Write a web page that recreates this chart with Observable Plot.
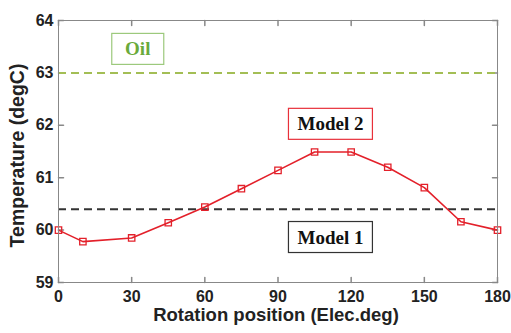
<!DOCTYPE html>
<html>
<head>
<meta charset="utf-8">
<script src="https://cdn.jsdelivr.net/npm/d3@7"></script>
<script src="https://cdn.jsdelivr.net/npm/@observablehq/plot@0.6"></script>
<style>
  html, body { margin: 0; padding: 0; background: #fff; }
</style>
</head>
<body>
<div id="chart"></div>
<script>
// Data
const positions = [0, 10, 30, 45, 60, 75, 90, 105, 120, 135, 150, 165, 180];
const model2Temps = [60.0, 59.78, 59.85, 60.14, 60.44, 60.79, 61.14, 61.49, 61.49, 61.2, 60.81, 60.16, 60.0];
const model1Temp = 60.4;
const oilTemp = 63;
const xTicks = [0, 30, 60, 90, 120, 150, 180];
const yTicks = [59, 60, 61, 62, 63, 64];
const labels = ["Oil", "Model 2", "Model 1"];
const labelX = [32.5, 111.5, 111.5];
const labelY = [63.45, 62.02, 59.86];
const labelColors = ["#6aaa3a", "#111", "#111"];
const boxColors = ["#9cc97c", "#e8303a", "#333"];

const data = positions.map((p, i) => ({x: p, y: model2Temps[i]}));
const notes = labels.map((t, i) => ({t, x: labelX[i], y: labelY[i], c: labelColors[i], b: boxColors[i]}));

const tickShape = {
  draw(context, l) {
    context.moveTo(0, 0);
    context.lineTo(0, -l);
  }
};
const gray = "#888";

const plot = Plot.plot({
  width: 511,
  height: 333,
  marginLeft: 58,
  marginRight: 14,
  marginTop: 20,
  marginBottom: 51,
  style: {fontFamily: "Liberation Sans, Arial, sans-serif", fontWeight: "bold", fontSize: "16px", color: "#222", background: "#fff"},
  x: {domain: [0, 180], ticks: xTicks},
  y: {domain: [59, 64], ticks: yTicks},
  marks: [
    Plot.axisX(xTicks, {tickSize: 0, tickPadding: 8, label: null, fontSize: 16, fill: "#222", tickFormat: "d"}),
    Plot.axisY(yTicks, {tickSize: 0, tickPadding: 5, label: null, fontSize: 16, fill: "#222", tickFormat: "d"}),
    Plot.vector(xTicks, {x: d => d, frameAnchor: "bottom", length: 5, rotate: 0, anchor: "start", shape: tickShape, stroke: gray}),
    Plot.vector(xTicks, {x: d => d, frameAnchor: "top", length: 5, rotate: 180, anchor: "start", shape: tickShape, stroke: gray}),
    Plot.vector(yTicks, {y: d => d, frameAnchor: "left", length: 5, rotate: 90, anchor: "start", shape: tickShape, stroke: gray}),
    Plot.vector(yTicks, {y: d => d, frameAnchor: "right", length: 5, rotate: -90, anchor: "start", shape: tickShape, stroke: gray}),
    Plot.ruleY([oilTemp], {stroke: "#a3be55", strokeWidth: 2, strokeDasharray: "8,5"}),
    Plot.ruleY([model1Temp], {stroke: "#333", strokeWidth: 2, strokeDasharray: "8,5"}),
    Plot.line(data, {x: "x", y: "y", stroke: "#e3202a", strokeWidth: 1.6}),
    Plot.dot(data, {x: "x", y: "y", symbol: "square", r: 3.6, stroke: "#e3202a", strokeWidth: 1.3, fill: "none"}),
    Plot.text(notes, {x: "x", y: "y", text: "t", fill: "c", className: "note",
      fontFamily: "Liberation Serif, Times New Roman, serif", fontWeight: "bold", fontSize: 19}),
    Plot.text(["Rotation position (Elec.deg)"], {frameAnchor: "bottom", textAnchor: "middle", lineAnchor: "middle", dy: 33, dx: -2, fontSize: 18.5, fill: "#222"}),
    Plot.text(["Temperature (degC)"], {frameAnchor: "left", textAnchor: "middle", lineAnchor: "middle", rotate: -90, dx: -41, dy: 4, fontSize: 19.5, fill: "#222"}),
    Plot.frame({stroke: gray, strokeWidth: 1})
  ]
});

document.getElementById("chart").appendChild(plot);

// draw boxes around annotation labels
const noteGroup = plot.querySelector("g.note");
if (noteGroup) {
  noteGroup.querySelectorAll("text").forEach((t, i) => {
    const bb = t.getBBox();
    const padY = 6;
    const w = Math.max(bb.width + 18, 52);
    const rect = document.createElementNS("http://www.w3.org/2000/svg", "rect");
    rect.setAttribute("x", bb.x + bb.width / 2 - w / 2);
    rect.setAttribute("y", bb.y - padY + 1);
    rect.setAttribute("width", w);
    rect.setAttribute("height", bb.height + 2 * padY - 2);
    rect.setAttribute("fill", "#fff");
    rect.setAttribute("stroke", notes[i].b);
    rect.setAttribute("stroke-width", 1.2);
    const tr = t.getAttribute("transform");
    if (tr) rect.setAttribute("transform", tr);
    noteGroup.insertBefore(rect, t);
  });
}
</script>
</body>
</html>
